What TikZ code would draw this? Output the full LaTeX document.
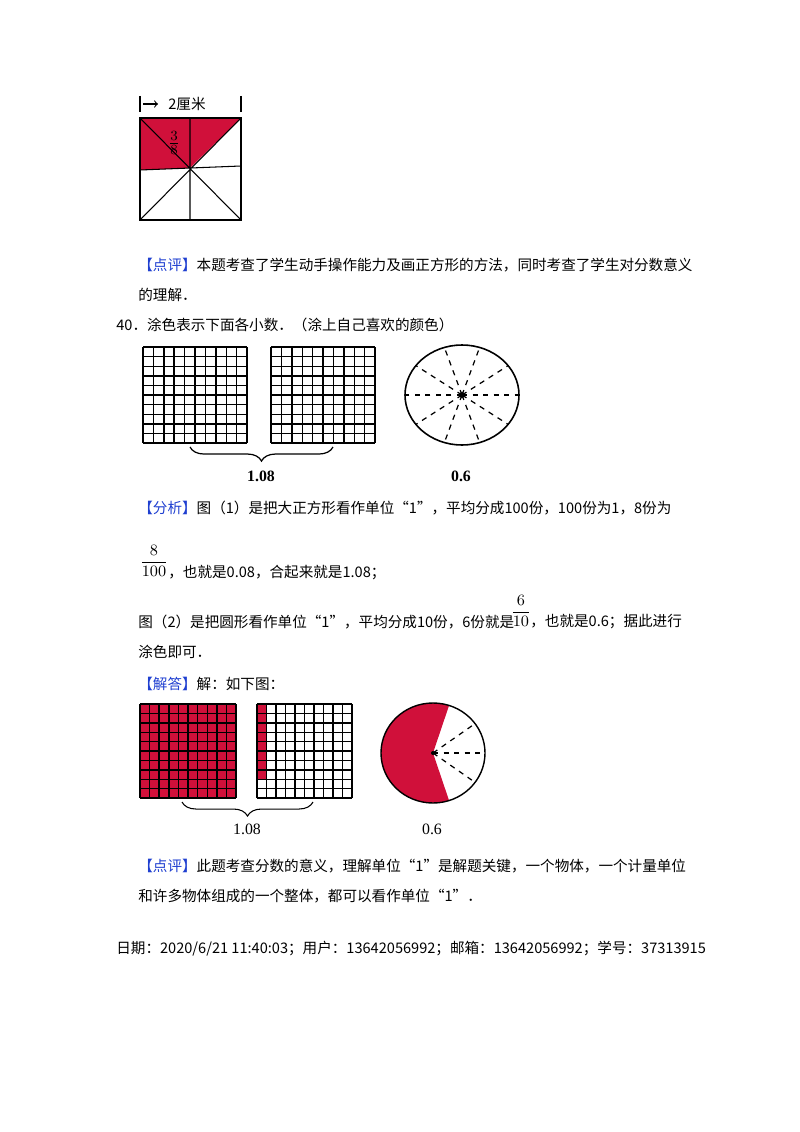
\documentclass[tikz,border=0pt]{standalone}
\usepackage{fontspec}
\setmainfont{Liberation Serif}
\newfontfamily\cjk{Noto Sans CJK SC}
\usetikzlibrary{decorations.pathreplacing}
\definecolor{myred}{HTML}{D0103A}
\definecolor{myblue}{HTML}{1F3FD0}
\tikzset{
 txt/.style={anchor=west,inner sep=0pt,font=\cjk\fontsize{8.3pt}{10pt}\selectfont},
 lbl/.style={inner sep=0pt,font=\fontsize{8pt}{10pt}\selectfont},
 gridline/.style={line width=0.8pt},
 spoke/.style={dashed,line width=0.7pt},
}
\newcommand\mygrid[4]{% x0 y0 w h
  \foreach \i in {0,...,10} {
    \draw[gridline] ({#1+\i*#3/10},#2) -- ({#1+\i*#3/10},{#2+#4});
    \draw[gridline] (#1,{#2+\i*#4/10}) -- ({#1+#3},{#2+\i*#4/10});
  }}
\begin{document}
\begin{tikzpicture}[x=0.02cm,y=-0.02cm]
\useasboundingbox (0,0) rectangle (800,1132);
% top square
\fill[myred] (140,118) -- (241,118) -- (190,168) -- (140,170) -- cycle;
\draw[line width=0.6pt] (140,118) rectangle (241,220);
\draw[line width=0.6pt] (190,118) -- (190,220) (140,170) -- (241,166)
  (140,118) -- (241,220) (241,118) -- (140,220);
\node[lbl,font=\fontsize{11pt}{12pt}\selectfont] (f38) at (174,143) {$\frac{3}{8}$};
\draw[line width=0.6pt] (140,96) -- (140,112) (241,96) -- (241,112);
\draw[->,line width=0.6pt] (143,104) -- (158,104);
\node[txt] (cm) at (168,104) {2厘米};
% texts
\node[txt] (t1) at (138,265) {\textcolor{myblue}{【点评】}本题考查了学生动手操作能力及画正方形的方法，同时考查了学生对分数意义};
\node[txt] (t2) at (138,295) {的理解．};
\node[txt] (t3) at (116,325) {40．涂色表示下面各小数．（涂上自己喜欢的颜色）};
% question grids
\mygrid{143}{347}{104}{96}
\mygrid{271}{347}{104}{96}
\draw[decorate,decoration={brace,amplitude=8pt,mirror},line width=0.7pt] (190,447) -- (333,447);
\node[lbl,font=\bfseries\fontsize{9pt}{10pt}\selectfont] (q108) at (261,476) {1.08};
\coordinate (qc) at (462,395);
\draw[line width=0.9pt] (qc) ellipse [x radius=57,y radius=50];
\foreach \a in {0,36,...,324} \draw[spoke] (qc) -- ++({57*cos(\a)},{50*sin(\a)});
\fill (qc) circle (3);
\node[lbl,font=\bfseries\fontsize{9pt}{10pt}\selectfont] (q06) at (461,476) {0.6};
% analysis
\node[txt] (t4) at (138,508) {\textcolor{myblue}{【分析】}图（1）是把大正方形看作单位“1”，平均分成100份，100份为1，8份为};
\node[lbl,font=\fontsize{9pt}{10pt}\selectfont] (f8) at (154,561) {$\displaystyle\frac{8}{100}$};
\node[txt] (t5) at (168,573) {，也就是0.08，合起来就是1.08；};
\node[txt] (t6) at (138,622) {图（2）是把圆形看作单位“1”，平均分成10份，6份就是};
\node[lbl,font=\fontsize{9pt}{10pt}\selectfont] (f6) at (521,611) {$\displaystyle\frac{6}{10}$};
\node[txt] (t7) at (530,622) {，也就是0.6；据此进行};
\node[txt] (t8) at (138,652) {涂色即可．};
\node[txt] (t9) at (138,684) {\textcolor{myblue}{【解答】}解：如下图：};
% answer grids
\fill[myred] (140,704) rectangle (236,798);
\mygrid{140}{704}{96}{94}
\fill[myred] (257,704) rectangle (266.5,779.2);
\mygrid{257}{704}{95}{94}
\draw[decorate,decoration={brace,amplitude=8pt,mirror},line width=0.6pt] (182,802) -- (313,802);
\node[lbl,font=\fontsize{9pt}{10pt}\selectfont] (a108) at (247,829) {1.08};
\coordinate (ac) at (433,753);
\fill[myred] (ac) -- ++({52*cos(72)},{-50*sin(72)}) arc [start angle=-72,end angle=-288,x radius=52,y radius=50] -- cycle;
\draw[line width=0.8pt] (ac) ellipse [x radius=52,y radius=50];
\foreach \a in {-36,0,36} \draw[spoke] (ac) -- ++({52*cos(\a)},{50*sin(\a)});
\fill (ac) circle (2);
\node[lbl,font=\fontsize{9pt}{10pt}\selectfont] (a06) at (432,829) {0.6};
\node[txt] (t10) at (138,866) {\textcolor{myblue}{【点评】}此题考查分数的意义，理解单位“1”是解题关键，一个物体，一个计量单位};
\node[txt] (t11) at (138,896) {和许多物体组成的一个整体，都可以看作单位“1”．};
\node[txt] (t12) at (116,949) {日期：2020/6/21 11:40:03；用户：13642056992；邮箱：13642056992；学号：37313915};
\end{tikzpicture}
\end{document}
